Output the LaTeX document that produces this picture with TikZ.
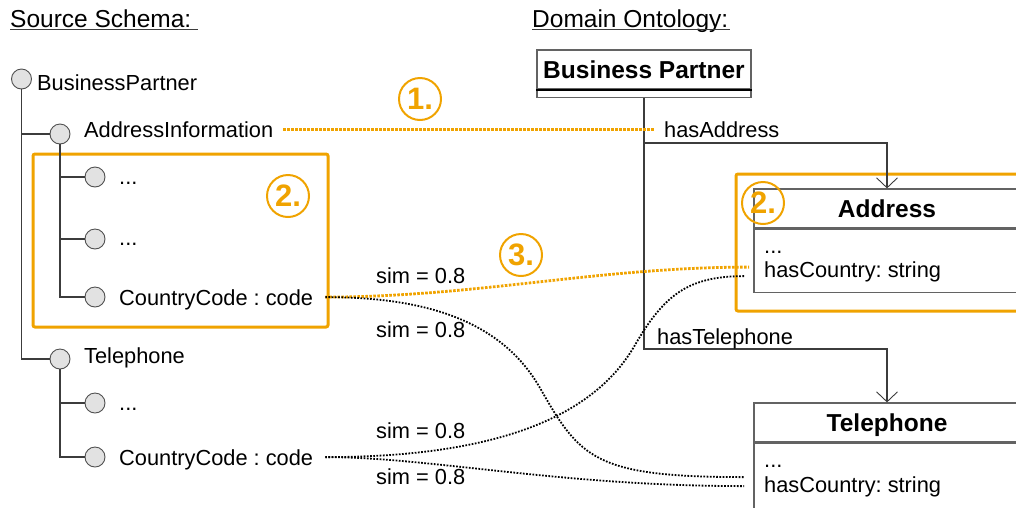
\documentclass[tikz,border=0pt]{standalone}
\usepackage{fontspec}
\setmainfont{Liberation Sans}
\usetikzlibrary{arrows.meta}
\definecolor{accent}{RGB}{240,163,0}
\definecolor{leaffill}{RGB}{226,226,226}
\definecolor{stroke}{RGB}{60,60,60}
\newcommand{\bodyfont}{\fontsize{21.8}{26}\selectfont}
\newcommand{\headfont}{\fontsize{24.5}{29}\selectfont}
\newcommand{\classfont}{\bfseries\fontsize{24.5}{29}\selectfont}
\newcommand{\badgefont}{\bfseries\fontsize{31}{31}\selectfont}
\frenchspacing
\begin{document}
\begin{tikzpicture}[x=1pt,y=-1pt,
  txt/.style={anchor=base west, inner sep=0pt, text depth=0pt, font=\bodyfont},
  heading/.style={txt, font=\headfont},
  underline/.style={draw=stroke, line width=1.3pt},
  leafnode/.style={circle, draw=stroke!90, fill=leaffill, line width=0.9pt,
    minimum size=20pt, inner sep=0pt},
  tree/.style={draw=stroke, line width=1.1pt},
  classhead/.style={rectangle, draw=stroke!80, line width=1.2pt, inner sep=0pt,
    text depth=0pt, font=\classfont},
  classbody/.style={rectangle, draw=stroke!80, line width=1.2pt, inner sep=0pt},
  assoc/.style={draw=stroke, line width=1.1pt,
    -{Straight Barb[length=10pt,width=21pt,line width=0.9pt]}},
  hilite/.style={rectangle, draw=accent, line width=3pt, rounded corners=2pt, inner sep=0pt},
  badge/.style={circle, draw=accent, line width=2pt, minimum size=42pt, inner sep=0pt,
    text=accent, text depth=0pt, font=\badgefont},
  matchlink/.style={draw=accent, line width=2.8pt, dash pattern=on 2.6pt off 1.4pt},
  simlink/.style={draw=black, line width=1.8pt, dash pattern=on 1.7pt off 1.5pt}
]
\useasboundingbox (0,0) rectangle (1016,507);

% ---------- source schema (tree) ----------
\node[heading] (srcHead) at (10,27) {Source Schema:};
\draw[underline] ([yshift=-2.5pt]srcHead.base west) -- ([yshift=-2.5pt,xshift=6pt]srcHead.base east);

\node[hilite, minimum width=295pt, minimum height=173pt] (grpSrc) at (180.5,240.5) {};

\node[leafnode] (bpC) at (21.5,79) {};
\node[txt] (bpT) at (37,90) {BusinessPartner};
\node[leafnode] (aiC) at (60,134) {};
\node[txt] (aiT) at (84,137) {AddressInformation};
\node[leafnode] (a1C) at (95,177) {};
\node[txt] (a1T) at (119,184) {...};
\node[leafnode] (a2C) at (95,239) {};
\node[txt] (a2T) at (119,245) {...};
\node[leafnode] (a3C) at (95,297) {};
\node[txt] (a3T) at (119,305) {CountryCode : code};
\node[leafnode] (telC) at (60,359) {};
\node[txt] (telT) at (84,363) {Telephone};
\node[leafnode] (t1C) at (95,403) {};
\node[txt] (t1T) at (119,410) {...};
\node[leafnode] (t2C) at (95,457) {};
\node[txt] (t2T) at (119,465) {CountryCode : code};

\draw[tree] (bpC.south) |- (telC.west);
\draw[tree] (aiC.west) -- (aiC.west -| bpC.south);
\draw[tree] (aiC.south) |- (a3C.west);
\draw[tree] (a1C.west) -- (a1C.west -| aiC.south);
\draw[tree] (a2C.west) -- (a2C.west -| aiC.south);
\draw[tree] (telC.south) |- (t2C.west);
\draw[tree] (t1C.west) -- (t1C.west -| telC.south);

% ---------- domain ontology (classes) ----------
\node[heading] (domHead) at (532,27) {Domain Ontology:};
\draw[underline] ([yshift=-2.5pt]domHead.base west) -- ([yshift=-2.5pt,xshift=1pt]domHead.base east);

\node[hilite, minimum width=304pt, minimum height=137pt] (grpDom) at (888,242.5) {};

\node[classhead, minimum width=214pt, minimum height=39pt] (bpHead) at (644,69.5) {Business Partner};
\node[classbody, minimum width=214pt, minimum height=7pt, anchor=north] (bpBody) at (bpHead.south) {};
\draw[stroke, line width=2.2pt] (bpHead.south west) -- (bpHead.south east);

\node[classhead, minimum width=266pt, minimum height=39pt] (addrHead) at (887,208.5) {Address};
\node[classbody, minimum width=266pt, minimum height=63pt, anchor=north] (addrBody) at (addrHead.south) {};
\node[txt] (addrDots) at (764,253) {...};
\node[txt] (addrAttr) at (764,277) {hasCountry: string};

\node[classhead, minimum width=266pt, minimum height=39pt] (telHead) at (887,422.5) {Telephone};
\node[classbody, minimum width=266pt, minimum height=90pt, anchor=north] (telBody) at (telHead.south) {};
\node[txt] (telDots) at (764,467) {...};
\node[txt] (telAttr) at (764,492) {hasCountry: string};

\coordinate (bpStem) at (bpBody.south);
\coordinate (addrFork) at (644,143);
\coordinate (telBend) at (887,349);
\draw[assoc] (bpStem) |- (telBend) -- (telHead.north);
\draw[assoc] (addrFork) -| (addrHead.north);
\node[txt] (hasAddr) at (664,137) {hasAddress};
\node[txt] (hasTel) at (657,344) {hasTelephone};

% ---------- correspondences ----------
\draw[matchlink] ([xshift=10pt]aiT.east) -- ([xshift=-9pt]hasAddr.west);
\draw[matchlink] ([xshift=12pt]a3T.east) .. controls +(150,0) and +(-150,0) .. ([shift={(-15,-2)}]addrAttr.west);

\coordinate (crossA) at (540,388);
\coordinate (crossB) at (635,345);
\draw[simlink] ([xshift=12pt]a3T.east) .. controls +(95,0) and +(-40,-70) .. (crossA)
  .. controls +(40,70) and +(-150,0) .. ([shift={(-20,-7)}]telAttr.west);
\draw[simlink] ([xshift=12pt]t2T.east) .. controls +(175,0) and +(-40,70) .. (crossB)
  .. controls +(30,-52) and +(-55,0) .. ([shift={(-19,7)}]addrAttr.west);
\draw[simlink] ([xshift=12pt]t2T.east) .. controls +(105,0) and +(-185,0) .. ([shift={(-20,2)}]telAttr.west);

\node[txt] (simA) at (376,283) {sim = 0.8};
\node[txt] (simB) at (376,337) {sim = 0.8};
\node[txt] (simC) at (376,438) {sim = 0.8};
\node[txt] (simD) at (376,484) {sim = 0.8};

% ---------- step badges ----------
\node[badge] (step1) at (420,99) {1.};
\node[badge] (step2a) at (288,196) {2.};
\node[badge] (step2b) at (763,203) {2.};
\node[badge] (step3) at (521,255) {3.};
\end{tikzpicture}
\end{document}
